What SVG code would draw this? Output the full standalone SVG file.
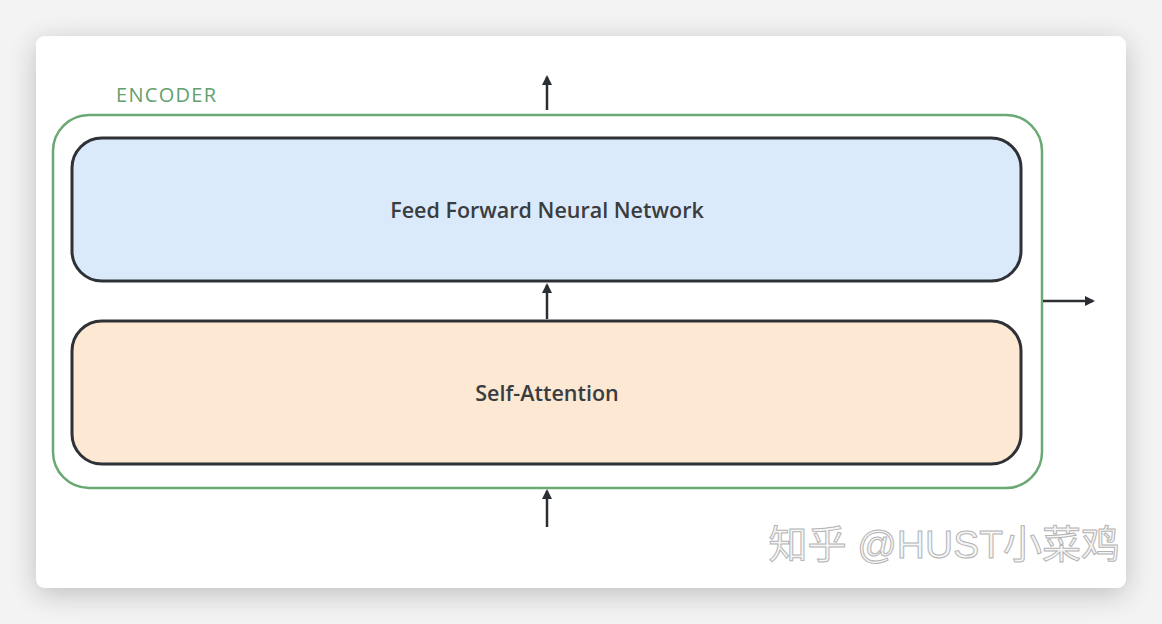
<svg xmlns="http://www.w3.org/2000/svg" width="1162" height="624" viewBox="0 0 1162 624">
<defs>
<filter id="sh" x="-10%" y="-10%" width="120%" height="125%">
<feGaussianBlur in="SourceAlpha" stdDeviation="14"/>
<feOffset dy="6"/>
<feComponentTransfer><feFuncA type="linear" slope="0.22"/></feComponentTransfer>
<feMerge><feMergeNode/><feMergeNode in="SourceGraphic"/></feMerge>
</filter>
<marker id="ah" viewBox="0 0 10 10" refX="8" refY="5" markerWidth="10" markerHeight="10" markerUnits="userSpaceOnUse" orient="auto">
<path d="M0,0 L10,5 L0,10 Z" fill="#2b2f33"/>
</marker>
</defs>
<style>
.lbl{font-family:"Open Sans","Noto Sans",sans-serif;font-weight:600;font-size:21.5px;fill:#3a3d40;text-anchor:middle}
.box{stroke:#2e3236;stroke-width:3}
.con{stroke:#2b2f33;stroke-width:2.5;fill:none;marker-end:url(#ah)}
</style>
<rect width="1162" height="624" fill="#f3f3f3"/>
<rect x="36" y="36" width="1090" height="552" rx="9" fill="#ffffff" filter="url(#sh)"/>
<g id="encoder">
<rect x="53" y="115" width="989" height="373" rx="36" fill="none" stroke="#6aa874" stroke-width="2.5"/>
<text x="116" y="102" font-family="'Open Sans','Noto Sans',sans-serif" font-size="20" letter-spacing="1.3" fill="#64a06e">ENCODER</text>
</g>
<g id="ffnn">
<rect class="box" x="72" y="138" width="949" height="143" rx="30" fill="#dbeafb"/>
<text class="lbl" x="547" y="218">Feed Forward Neural Network</text>
</g>
<g id="selfattn">
<rect class="box" x="72" y="321" width="949" height="143" rx="30" fill="#fde8d3"/>
<text class="lbl" x="547" y="401">Self-Attention</text>
</g>
<g id="connectors">
<line class="con" x1="547" y1="110" x2="547" y2="77"/>
<line class="con" x1="547" y1="319" x2="547" y2="285"/>
<line class="con" x1="547" y1="527" x2="547" y2="491"/>
<line class="con" x1="1043" y1="301" x2="1093" y2="301"/>
</g>
<text x="1120" y="558" text-anchor="end" font-family="'Liberation Sans','Noto Sans CJK SC',sans-serif" font-size="39" fill="#f6f6f6" stroke="#b4b4b4" stroke-width="1">知乎 @HUST小菜鸡</text>
</svg>
